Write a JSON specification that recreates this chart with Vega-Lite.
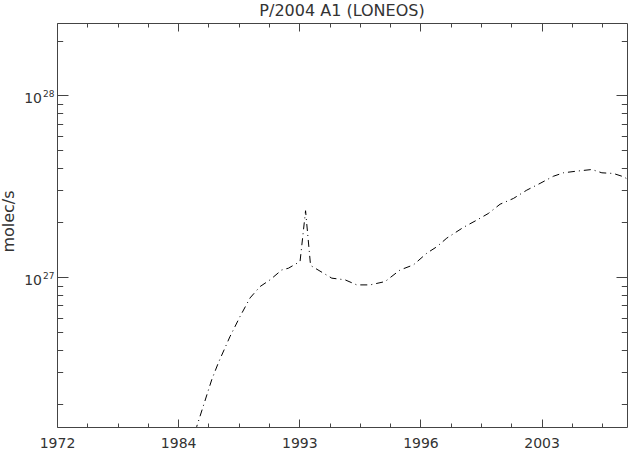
{
  "$schema": "https://vega.github.io/schema/vega-lite/v6.json",
  "width": 570,
  "height": 404,
  "autosize": "none",
  "padding": {"left": 57, "top": 23, "right": 1, "bottom": 22},
  "background": "white",
  "title": {"text": "P/2004 A1 (LONEOS)", "font": "DejaVu Sans", "fontSize": 16, "fontWeight": "normal", "color": "#333", "anchor": "middle", "frame": "group", "offset": 4},
  "config": {
    "view": {"stroke": "#444", "strokeWidth": 1},
    "axis": {"grid": false, "domain": false, "tickColor": "#444", "tickWidth": 1, "labelFont": "DejaVu Sans", "labelFontSize": 14, "labelColor": "#333", "labelFlush": false, "labelOverlap": false, "titleFont": "DejaVu Sans", "titleFontWeight": "normal", "titleColor": "#333"}
  },
  "data": {"values": [
    {"t": 4.39, "q": 1.17e26},
    {"t": 4.614, "q": 1.51e26},
    {"t": 5.109, "q": 2.73e26},
    {"t": 5.327, "q": 3.38e26},
    {"t": 5.713, "q": 4.72e26},
    {"t": 6.044, "q": 6.08e26},
    {"t": 6.374, "q": 7.69e26},
    {"t": 6.704, "q": 8.88e26},
    {"t": 7.034, "q": 9.67e26},
    {"t": 7.421, "q": 1.096e27},
    {"t": 7.639, "q": 1.12e27},
    {"t": 8.025, "q": 1.22e27},
    {"t": 8.207, "q": 2.32e27},
    {"t": 8.372, "q": 1.16e27},
    {"t": 9.072, "q": 9.88e26},
    {"t": 9.511, "q": 9.67e26},
    {"t": 9.898, "q": 9.07e26},
    {"t": 10.337, "q": 9.07e26},
    {"t": 10.832, "q": 9.46e26},
    {"t": 11.328, "q": 1.096e27},
    {"t": 11.767, "q": 1.168e27},
    {"t": 12.21, "q": 1.355e27},
    {"t": 12.54, "q": 1.47e27},
    {"t": 12.87, "q": 1.64e27},
    {"t": 13.42, "q": 1.88e27},
    {"t": 13.86, "q": 2.06e27},
    {"t": 14.24, "q": 2.24e27},
    {"t": 14.63, "q": 2.52e27},
    {"t": 15.07, "q": 2.71e27},
    {"t": 15.51, "q": 3.01e27},
    {"t": 15.95, "q": 3.28e27},
    {"t": 16.39, "q": 3.59e27},
    {"t": 16.72, "q": 3.75e27},
    {"t": 17.16, "q": 3.83e27},
    {"t": 17.66, "q": 3.91e27},
    {"t": 17.99, "q": 3.75e27},
    {"t": 18.37, "q": 3.72e27},
    {"t": 18.70, "q": 3.57e27},
    {"t": 18.85, "q": 3.45e27}
  ]},
  "resolve": {"axis": {"x": "independent", "y": "independent"}},
  "layer": [
    {
      "mark": {"type": "line", "color": "#000", "strokeWidth": 1, "strokeDash": [7, 4, 1, 4], "clip": true},
      "encoding": {
        "x": {"field": "t", "type": "quantitative", "scale": {"domain": [0, 18.82], "nice": false, "zero": false},
          "axis": {"orient": "bottom", "title": null, "values": [0, 4, 8, 12, 16], "tickSize": -8, "labelPadding": 17,
            "labelExpr": "datum.value==0?'1972':datum.value==4?'1984':datum.value==8?'1993':datum.value==12?'1996':datum.value==16?'2003':''"}},
        "y": {"field": "q", "type": "quantitative", "scale": {"type": "log", "domain": [1.5e26, 2.5e28], "nice": false},
          "axis": {"orient": "left", "values": [1e27, 1e28], "tickSize": -11, "labelPadding": 26.5, "labelOffset": 3,
            "labelExpr": "'10'",
            "title": "molec/s", "titleFontSize": 16, "titleBaseline": "alphabetic", "titleX": -44, "titleY": 198, "titleAngle": 270}}
      }
    },
    {
      "mark": {"type": "line", "opacity": 0},
      "encoding": {
        "x": {"field": "t", "type": "quantitative", "scale": {"domain": [0, 18.82], "nice": false, "zero": false},
          "axis": {"orient": "bottom", "title": null, "labels": false, "values": [1,2,3,5,6,7,9,10,11,13,14,15,17,18], "tickSize": -4}},
        "y": {"field": "q", "type": "quantitative", "scale": {"type": "log", "domain": [1.5e26, 2.5e28], "nice": false},
          "axis": {"orient": "left", "title": null, "labels": false, "tickSize": -5.7,
            "values": [2e26,3e26,4e26,5e26,6e26,7e26,8e26,9e26,2e27,3e27,4e27,5e27,6e27,7e27,8e27,9e27,2e28]}}
      }
    },
    {
      "mark": {"type": "line", "opacity": 0},
      "encoding": {
        "x": {"field": "t", "type": "quantitative", "scale": {"domain": [0, 18.82], "nice": false, "zero": false},
          "axis": {"orient": "top", "title": null, "labels": false, "values": [0, 4, 8, 12, 16], "tickSize": -8}},
        "y": {"field": "q", "type": "quantitative", "scale": {"type": "log", "domain": [1.5e26, 2.5e28], "nice": false},
          "axis": {"orient": "right", "title": null, "labels": false, "values": [1e27, 1e28], "tickSize": -11}}
      }
    },
    {
      "mark": {"type": "line", "opacity": 0},
      "encoding": {
        "x": {"field": "t", "type": "quantitative", "scale": {"domain": [0, 18.82], "nice": false, "zero": false},
          "axis": {"orient": "top", "title": null, "labels": false, "values": [1,2,3,5,6,7,9,10,11,13,14,15,17,18], "tickSize": -4}},
        "y": {"field": "q", "type": "quantitative", "scale": {"type": "log", "domain": [1.5e26, 2.5e28], "nice": false},
          "axis": {"orient": "right", "title": null, "labels": false, "tickSize": -5.7,
            "values": [2e26,3e26,4e26,5e26,6e26,7e26,8e26,9e26,2e27,3e27,4e27,5e27,6e27,7e27,8e27,9e27,2e28]}}
      }
    },
    {
      "mark": {"type": "line", "opacity": 0},
      "encoding": {
        "y": {"field": "q", "type": "quantitative", "scale": {"type": "log", "domain": [1.5e26, 2.5e28], "nice": false},
          "axis": {"orient": "left", "title": null, "ticks": false, "values": [1e27, 1e28], "labelPadding": 14.5, "labelAlign": "left", "labelOffset": -2, "labelFontSize": 9,
            "labelExpr": "round(log(datum.value)/LN10)==27?'27':'28'"}},
        "x": {"field": "t", "type": "quantitative", "scale": {"domain": [0, 18.82], "nice": false, "zero": false},
          "axis": null}
      }
    }
  ]
}
